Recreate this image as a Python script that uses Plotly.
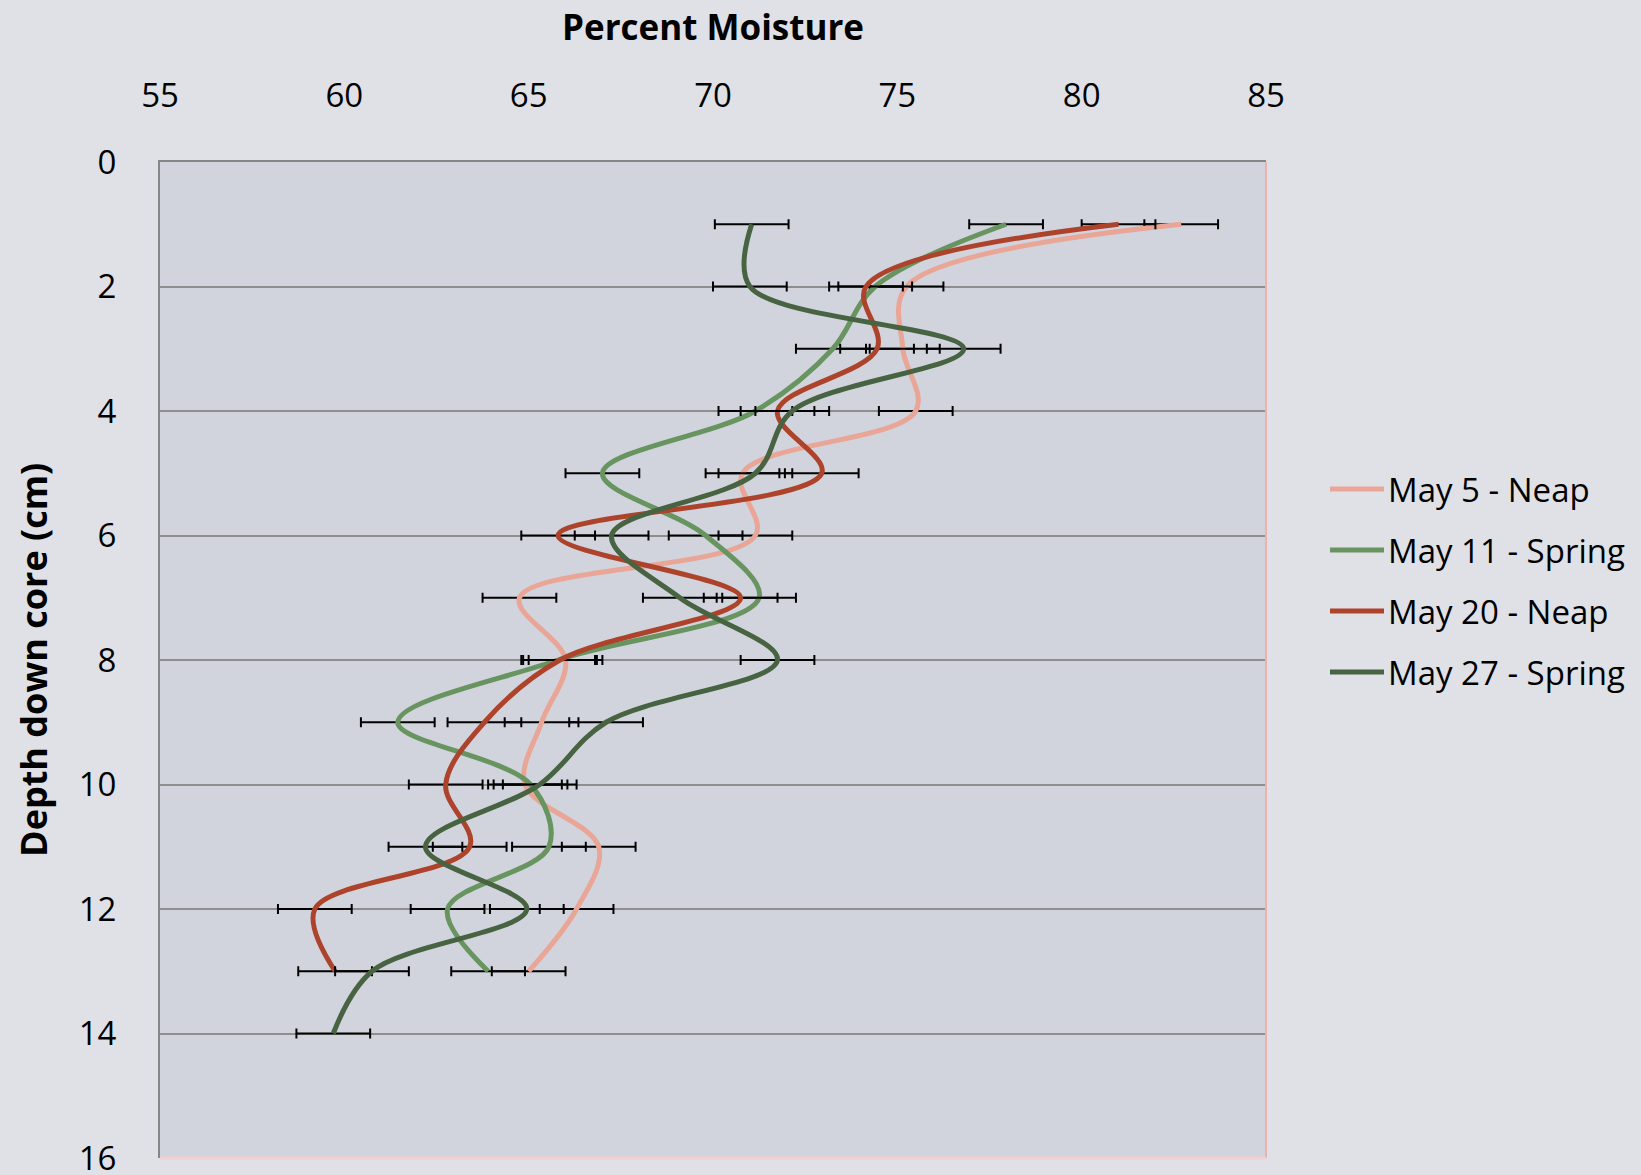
import plotly.graph_objects as go

# Depth (cm) of each sampled slice down the core
depth = [1, 2, 3, 4, 5, 6, 7, 8, 9, 10, 11, 12, 13]
depth_deep = [1, 2, 3, 4, 5, 6, 7, 8, 9, 10, 11, 12, 13, 14]

# Percent moisture for each sampling date
may05_neap = [82.7, 75.25, 75.15, 75.5, 70.8, 71.15, 64.75, 66.0, 65.35, 64.9, 66.9, 66.3, 65.0]
may11_spring = [77.95, 74.4, 73.25, 71.15, 67.0, 69.8, 71.25, 65.8, 61.45, 65.05, 65.55, 62.8, 63.9]
may20_neap = [81.0, 74.15, 74.45, 71.75, 72.95, 65.8, 70.75, 65.85, 63.8, 62.75, 63.4, 59.2, 59.75]
may27_spring = [71.05, 71.0, 76.8, 72.15, 71.15, 67.25, 69.1, 71.75, 67.1, 65.3, 62.2, 64.95, 60.75, 59.7]

# Error bar half-width (percent moisture)
moisture_err = 1.0

series_names = ["May 5 - Neap", "May 11 - Spring", "May 20 - Neap", "May 27 - Spring"]
series_values = [may05_neap, may11_spring, may20_neap, may27_spring]
series_depths = [depth, depth, depth, depth_deep]
series_colors = ["#e9a596", "#689460", "#ae432c", "#476342"]

x_ticks = [55, 60, 65, 70, 75, 80, 85]
y_ticks = [0, 2, 4, 6, 8, 10, 12, 14, 16]

FONT = "Open Sans"
W, H = 1641, 1175
ML, MR, MT, MB = 160, 375, 162, 17
PW, PH = W - ML - MR, H - MT - MB


def px_to_paper(x, y):
    """Convert figure pixel position to paper coordinates."""
    return (x - ML) / PW, (H - MB - y) / PH


fig = go.Figure()
for name, vals, dep, col in zip(series_names, series_values, series_depths, series_colors):
    fig.add_trace(go.Scatter(
        x=vals,
        y=dep,
        mode="lines",
        name=name,
        showlegend=False,
        line=dict(color=col, width=5, shape="spline", smoothing=1),
        error_x=dict(type="constant", value=moisture_err, color="black",
                     thickness=2, width=5),
    ))

# Plot frame: coloured right and bottom edges
shapes = [
    dict(type="line", xref="paper", yref="paper", x0=1, x1=1, y0=0, y1=1,
         line=dict(color="#edb1ac", width=2), layer="above"),
    dict(type="line", xref="paper", yref="paper", x0=0, x1=1, y0=0, y1=0,
         line=dict(color="#f2d0cf", width=3), layer="above"),
]
_, title_y = px_to_paper(0, 26)
ytitle_x, _ = px_to_paper(33, 0)
annotations = [
    dict(text="<b>Percent Moisture</b>", xref="paper", yref="paper",
         x=0.5, y=title_y, xanchor="center", yanchor="middle", showarrow=False,
         font=dict(family=FONT, size=35, color="black")),
    dict(text="<b>Depth down core (cm)</b>", xref="paper", yref="paper",
         x=ytitle_x, y=0.5, xanchor="center", yanchor="middle", showarrow=False,
         textangle=-90, font=dict(family=FONT, size=36, color="black")),
]

# Legend drawn at the right of the plot: a line sample followed by its label
legend_rows = [489, 550, 611, 672]
for name, col, row in zip(series_names, series_colors, legend_rows):
    x0, yy = px_to_paper(1330, row)
    x1, _ = px_to_paper(1384, row)
    shapes.append(dict(type="line", xref="paper", yref="paper", x0=x0, x1=x1, y0=yy, y1=yy,
                       line=dict(color=col, width=5), layer="above"))
    xt, _ = px_to_paper(1386, row)
    annotations.append(dict(text=name, xref="paper", yref="paper", x=xt, y=yy,
                            xanchor="left", yanchor="middle", showarrow=False,
                            font=dict(family=FONT, size=33, color="black")))

fig.update_layout(
    width=W,
    height=H,
    margin=dict(l=ML, r=MR, t=MT, b=MB, autoexpand=False),
    paper_bgcolor="#e0e1e6",
    plot_bgcolor="#d1d4dd",
    font=dict(family=FONT, size=33, color="black"),
    showlegend=False,
    xaxis=dict(
        side="top",
        range=[55, 85],
        tickvals=x_ticks,
        showgrid=False,
        zeroline=False,
        showline=True,
        linecolor="#868686",
        linewidth=2,
        ticks="",
        ticklabelstandoff=40,
        automargin=False,
        tickfont=dict(family=FONT, size=33),
    ),
    yaxis=dict(
        range=[16, 0],
        tickvals=y_ticks,
        showgrid=True,
        gridcolor="#8e8e8e",
        gridwidth=1.5,
        zeroline=False,
        showline=True,
        linecolor="#868686",
        linewidth=2,
        ticks="",
        ticklabelstandoff=35,
        ticklabeloverflow="allow",
        automargin=False,
        tickfont=dict(family=FONT, size=33),
    ),
    shapes=shapes,
    annotations=annotations,
)

fig.write_html("out.html")
